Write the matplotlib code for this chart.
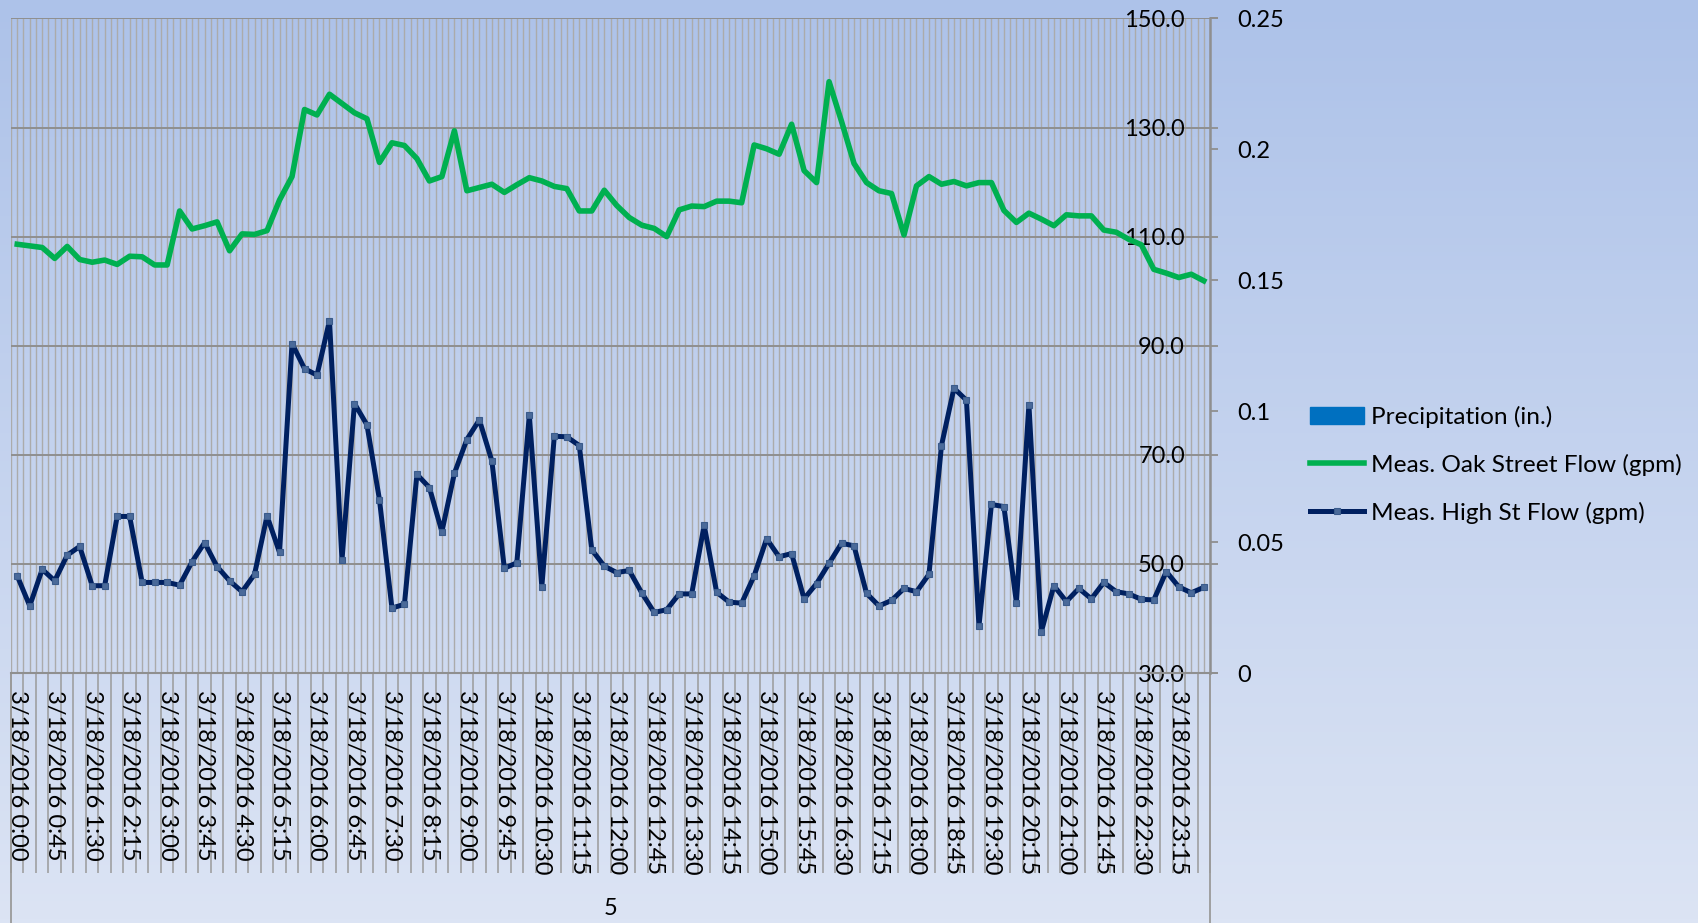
import matplotlib.pyplot as plt
import matplotlib.transforms as mtransforms
import numpy as np
from matplotlib.colors import LinearSegmentedColormap
from matplotlib.lines import Line2D
from matplotlib.patches import Patch

plt.rcParams['font.family'] = ['Lato', 'DejaVu Sans']

# 15-minute readings for 3/18/2016 (96 intervals)
oak_flow = [108.6, 108.3, 108.0, 106.0, 108.2, 105.8, 105.3, 105.7, 104.9, 106.4,
            106.3, 104.8, 104.8, 114.7, 111.4, 112.0, 112.7, 107.4, 110.5, 110.4,
            111.1, 116.7, 121.0, 133.3, 132.3, 136.1, 134.4, 132.7, 131.6, 123.6,
            127.2, 126.7, 124.3, 120.2, 121.0, 129.4, 118.4, 119.0, 119.6, 118.1,
            119.5, 120.8, 120.2, 119.2, 118.8, 114.7, 114.7, 118.5, 115.7, 113.5,
            112.1, 111.5, 110.0, 114.9, 115.6, 115.5, 116.5, 116.5, 116.2, 126.8,
            126.1, 125.1, 130.6, 122.1, 119.9, 138.4, 131.1, 123.4, 119.9, 118.4,
            117.9, 110.3, 119.3, 121.0, 119.6, 120.1, 119.3, 119.9, 119.9, 114.8,
            112.6, 114.3, 113.2, 112.0, 114.0, 113.8, 113.8, 111.2, 110.8, 109.5,
            108.5, 104.0, 103.3, 102.5, 103.1, 101.9]
high_flow = [47.8, 42.3, 49.0, 46.9, 51.6, 53.2, 46.0, 46.0, 58.7, 58.7,
             46.6, 46.6, 46.6, 46.1, 50.4, 53.9, 49.5, 46.9, 44.9, 48.1,
             58.8, 52.1, 90.4, 85.8, 84.6, 94.6, 50.7, 79.4, 75.5, 61.8,
             41.9, 42.6, 66.4, 64.0, 55.9, 66.6, 72.8, 76.4, 68.9, 49.2,
             50.2, 77.3, 45.8, 73.4, 73.3, 71.7, 52.6, 49.6, 48.4, 48.8,
             44.7, 41.1, 41.6, 44.5, 44.5, 57.1, 44.8, 43.0, 42.8, 47.8,
             54.6, 51.3, 51.9, 43.6, 46.4, 50.1, 53.8, 53.3, 44.6, 42.3,
             43.3, 45.5, 44.9, 48.1, 71.7, 82.2, 80.0, 38.6, 60.9, 60.5,
             42.9, 79.2, 37.6, 46.0, 43.1, 45.5, 43.6, 46.6, 44.9, 44.5,
             43.5, 43.4, 48.6, 45.8, 44.7, 45.7]
precip = [0.0] * 96  # no rain recorded that day

date = '3/18/2016'
time_labels = ['0:00', '0:45', '1:30', '2:15', '3:00', '3:45', '4:30', '5:15',
               '6:00', '6:45', '7:30', '8:15', '9:00', '9:45', '10:30', '11:15',
               '12:00', '12:45', '13:30', '14:15', '15:00', '15:45', '16:30', '17:15',
               '18:00', '18:45', '19:30', '20:15', '21:00', '21:45', '22:30', '23:15']
group_label = '5'
flow_ticks = [30, 50, 70, 90, 110, 130, 150]
precip_ticks = [0, 0.05, 0.1, 0.15, 0.2, 0.25]
precip_labels = ['0', '0.05', '0.1', '0.15', '0.2', '0.25']

n = len(oak_flow)
x = np.arange(n)
grid_col = '#8F8F8F'
fs = 17

fig = plt.figure(figsize=(16.98, 9.23), dpi=100)

# gradient background
bg = fig.add_axes([0, 0, 1, 1], zorder=-10)
cmap = LinearSegmentedColormap.from_list('bg', ['#ADC2E9', '#DCE4F4'])
bg.imshow(np.linspace(0, 1, 256).reshape(-1, 1), aspect='auto', cmap=cmap,
          extent=[0, 1, 0, 1])
bg.axis('off')

ax = fig.add_axes([11 / 1698, 1 - 673 / 923, 1199 / 1698, 654.6 / 923])
ax.set_facecolor('none')
ax2 = ax.twinx()

# lines on the flow axis
ax.plot(x, oak_flow, color='#00B050', lw=4.0, zorder=3)
ax.plot(x, high_flow, color='#002060', lw=3.6, marker='s', ms=4,
        mfc='#4A6A9A', mec='#3A5B8C', mew=0.8, zorder=4)
# precipitation bars on the secondary axis
ax2.bar(x, precip, width=0.6, color='#0070C0')

ax.set_xlim(-0.5, n - 0.5)
ax.set_ylim(30, 150)
ax2.set_ylim(0, 0.25)

# category boundaries = long ticks, centers carry labels
ax.set_xticks(np.arange(-0.5, n, 1.0))
cat_labels = [''] * n
for k, t in enumerate(time_labels):
    cat_labels[3 * k] = date + ' ' + t
ax.set_xticks(x, cat_labels, minor=True, rotation=-90)
ax.tick_params(axis='x', which='major', length=144, width=1.1, color='#9A9A9A',
               labelbottom=False)
ax.tick_params(axis='x', which='minor', length=0, pad=12, labelsize=fs)
ax.grid(axis='x', which='both', color='#ABABAB', lw=1.0)

# flow axis drawn on the right, labels inside the plot
ax.yaxis.set_ticks_position('right')
ax.set_yticks(flow_ticks, ['%.1f' % v for v in flow_ticks], ha='right')
ax.tick_params(axis='y', direction='out', length=5.8, width=1.3, color=grid_col,
               labelsize=fs, labelright=True, labelleft=False, pad=-23.8)
ax.grid(axis='y', color=grid_col, lw=1.4)

ax2.set_yticks(precip_ticks, precip_labels)
ax2.tick_params(axis='y', direction='out', length=5.8, width=1.3, color=grid_col,
                labelsize=fs, pad=13.5)

for s in ['left', 'top']:
    ax.spines[s].set_visible(False)
ax.spines['bottom'].set_color(grid_col)
ax.spines['bottom'].set_linewidth(1.5)
ax.spines['right'].set_color(grid_col)
ax.spines['right'].set_linewidth(1.8)
for s in ax2.spines.values():
    s.set_visible(False)

# outer group lines and the group label
trans = mtransforms.blended_transform_factory(ax.transData, ax.transAxes)
for xb in (-0.5, n - 0.5):
    ax.plot([xb, xb], [0, -0.4], transform=trans, clip_on=False,
            color='#9A9A9A', lw=1.3)
ax.text((n - 1) / 2, -0.359, group_label, transform=trans, ha='center',
        va='center', fontsize=fs)

handles = [Patch(facecolor='#0070C0', edgecolor='#0070C0'),
           Line2D([], [], color='#00B050', lw=4.0),
           Line2D([], [], color='#002060', lw=3.6, marker='s', ms=4,
                  mfc='#4A6A9A', mec='#3A5B8C', mew=0.8)]
labels = ['Precipitation (in.)', 'Meas. Oak Street Flow (gpm)',
          'Meas. High St Flow (gpm)']
fig.legend(handles, labels, loc='upper left',
           bbox_to_anchor=(1310 / 1698, 1 - 406 / 923), frameon=False,
           fontsize=17.6, handlelength=2.2, handletextpad=0.3,
           labelspacing=1.05, borderpad=0, borderaxespad=0)

fig.savefig('out.png', dpi=100)
